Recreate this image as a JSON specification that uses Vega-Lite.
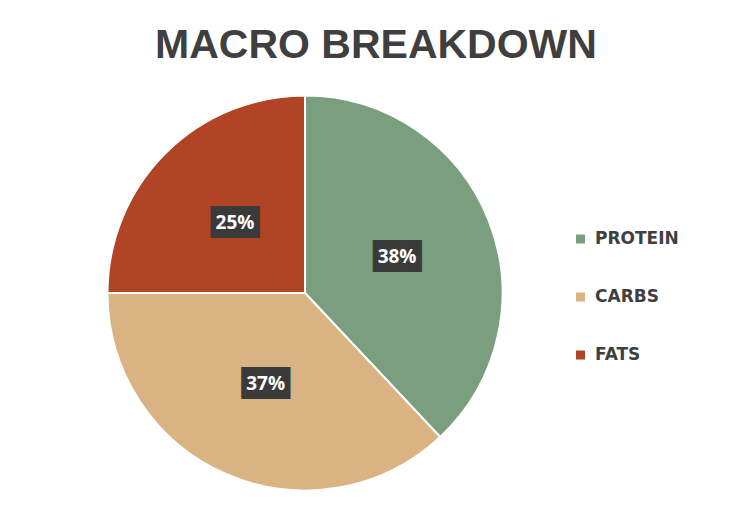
{
  "$schema": "https://vega.github.io/schema/vega-lite/v6.json",
  "autosize": {"type": "none"},
  "width": 395,
  "height": 395,
  "padding": {"left": 107.5, "top": 95.5, "right": 250.5, "bottom": 24.5},
  "background": "#ffffff",
  "title": {
    "text": "MACRO BREAKDOWN",
    "font": "Liberation Sans",
    "fontSize": 41,
    "fontWeight": "bold",
    "color": "#3f3f3f",
    "anchor": "middle",
    "frame": "group",
    "baseline": "alphabetic",
    "dx": 71,
    "dy": 43,
    "offset": 36
  },
  "data": {
    "values": [
      {"macro": "PROTEIN", "pct": 38, "rank": 1, "label": "38%", "box": "███"},
      {"macro": "CARBS", "pct": 37, "rank": 2, "label": "37%", "box": "███"},
      {"macro": "FATS", "pct": 25, "rank": 3, "label": "25%", "box": "███"}
    ]
  },
  "encoding": {
    "theta": {"field": "pct", "type": "quantitative", "stack": true},
    "order": {"field": "rank", "type": "quantitative"}
  },
  "layer": [
    {
      "mark": {"type": "arc", "outerRadius": 197.5, "stroke": "#ffffff", "strokeWidth": 2},
      "encoding": {
        "color": {
          "field": "macro",
          "type": "nominal",
          "sort": ["PROTEIN", "CARBS", "FATS"],
          "scale": {"domain": ["PROTEIN", "CARBS", "FATS"], "range": ["#7a9e7e", "#d9b382", "#b04424"]},
          "legend": {
            "title": null,
            "orient": "none",
            "legendX": 464.5,
            "legendY": 135,
            "symbolType": "square",
            "symbolSize": 81,
            "symbolStrokeWidth": 0,
            "labelFont": "DejaVu Sans",
            "labelFontSize": 17,
            "labelFontWeight": "bold",
            "labelColor": "#3f3f3f",
            "labelOffset": 6,
            "rowPadding": 40,
            "padding": 0
          }
        }
      }
    },
    {
      "mark": {"type": "text", "font": "DejaVu Sans Mono", "fontSize": 27, "color": "#3a3a3a", "align": "center", "baseline": "middle"},
      "encoding": {
        "radius": {"value": 99},
        "text": {"field": "box"}
      }
    },
    {
      "mark": {"type": "text", "font": "Open Sans", "fontSize": 19, "fontWeight": "bold", "color": "#ffffff", "align": "center", "baseline": "middle"},
      "encoding": {
        "radius": {"value": 99},
        "text": {"field": "label"}
      }
    }
  ]
}
